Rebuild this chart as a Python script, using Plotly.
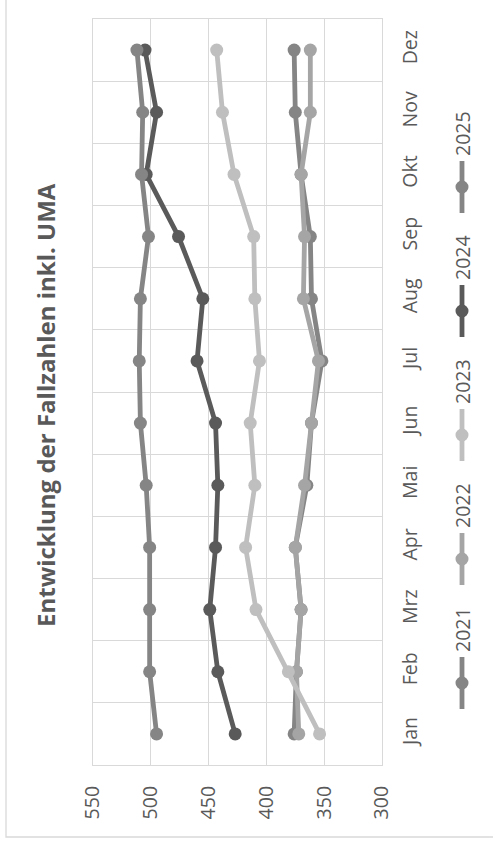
import plotly.graph_objects as go

months = ["Jan", "Feb", "Mrz", "Apr", "Mai", "Jun", "Jul", "Aug", "Sep", "Okt", "Nov", "Dez"]
years = ["2021", "2022", "2023", "2024", "2025"]
v2021 = [376, 374, 370, 375, 365, 361, 352, 361, 362, 370, 375, 376]
v2022 = [372, 374, 370, 375, 367, 361, 355, 368, 367, 370, 362, 362]
v2023 = [354, 381, 409, 418, 410, 414, 406, 410, 411, 428, 438, 443]
v2024 = [427, 442, 449, 444, 442, 444, 460, 455, 476, 504, 495, 505]
v2025 = [495, 501, 501, 501, 504, 509, 510, 509, 502, 508, 507, 512]
x_ticks = [300, 350, 400, 450, 500, 550]
title = "Entwicklung der Fallzahlen inkl. UMA"

series = [v2021, v2022, v2023, v2024, v2025]
colors = ["#858585", "#a5a5a5", "#bfbfbf", "#5a5a5a", "#858585"]

W, H = 493, 848
L, R, T, B = 93, 111, 19, 83
PW, PH = W - L - R, H - T - B
FONT = "Open Sans"
TXT = "#595959"
GRID = "#d9d9d9"


def px(x):
    return (x - L) / PW


def py(y):
    return (H - B - y) / PH


fig = go.Figure()
for name, vals, c in zip(years, series, colors):
    fig.add_trace(go.Scatter(
        x=vals, y=months, name=name, mode="lines+markers",
        line=dict(color=c, width=4.8),
        marker=dict(color=c, size=13),
        showlegend=False,
    ))

shapes = []
annotations = []

# outer chart border
shapes.append(dict(type="rect", xref="paper", yref="paper",
                   x0=px(6), x1=px(W + 20), y0=py(837), y1=py(-20),
                   line=dict(color=GRID, width=1.3), layer="below"))

# title
annotations.append(dict(text="<b>" + title + "</b>", xref="paper", yref="paper",
                        x=px(45), y=py(405), showarrow=False, textangle=-90,
                        font=dict(family=FONT, size=24, color=TXT),
                        xanchor="center", yanchor="middle"))

# manual rotated legend
for i, (name, c) in enumerate(zip(years, colors)):
    my = 683 - 124 * i
    shapes.append(dict(type="line", xref="paper", yref="paper",
                       x0=px(462), x1=px(462), y0=py(my - 26), y1=py(my + 26),
                       line=dict(color=c, width=4.8)))
    shapes.append(dict(type="circle", xref="paper", yref="paper",
                       x0=px(462 - 6.5), x1=px(462 + 6.5),
                       y0=py(my - 6.5), y1=py(my + 6.5),
                       fillcolor=c, line=dict(color=c, width=0)))
    annotations.append(dict(text=name, xref="paper", yref="paper",
                            x=px(462), y=py(my - 53), showarrow=False,
                            textangle=-90,
                            font=dict(family=FONT, size=19.5, color=TXT),
                            xanchor="center", yanchor="middle"))

fig.update_layout(
    width=W, height=H,
    margin=dict(l=L, r=R, t=T, b=B, autoexpand=False),
    paper_bgcolor="white", plot_bgcolor="white",
    font=dict(family=FONT, color=TXT, size=19.5),
    shapes=shapes, annotations=annotations,
    hovermode=False,
    xaxis=dict(range=[550, 300], tickvals=x_ticks, tickangle=-90,
               showgrid=True, gridcolor=GRID, gridwidth=1.3,
               showline=True, linecolor=GRID, linewidth=1.3, mirror=True,
               zeroline=False, ticks="", ticklabelstandoff=12,
               tickfont=dict(family=FONT, size=19.5, color=TXT)),
    yaxis=dict(type="category", categoryorder="array", categoryarray=months,
               range=[-0.5, 11.5], side="right", tickangle=-90,
               tickson="boundaries", showgrid=True, gridcolor=GRID, gridwidth=1.3,
               showline=True, linecolor=GRID, linewidth=1.3, mirror=True,
               zeroline=False, ticks="", ticklabelstandoff=10,
               tickfont=dict(family=FONT, size=19.5, color=TXT)),
)

fig.write_html("out.html", config={"displayModeBar": False},
               post_script="document.body.style.margin='0';document.body.style.overflow='hidden';")
